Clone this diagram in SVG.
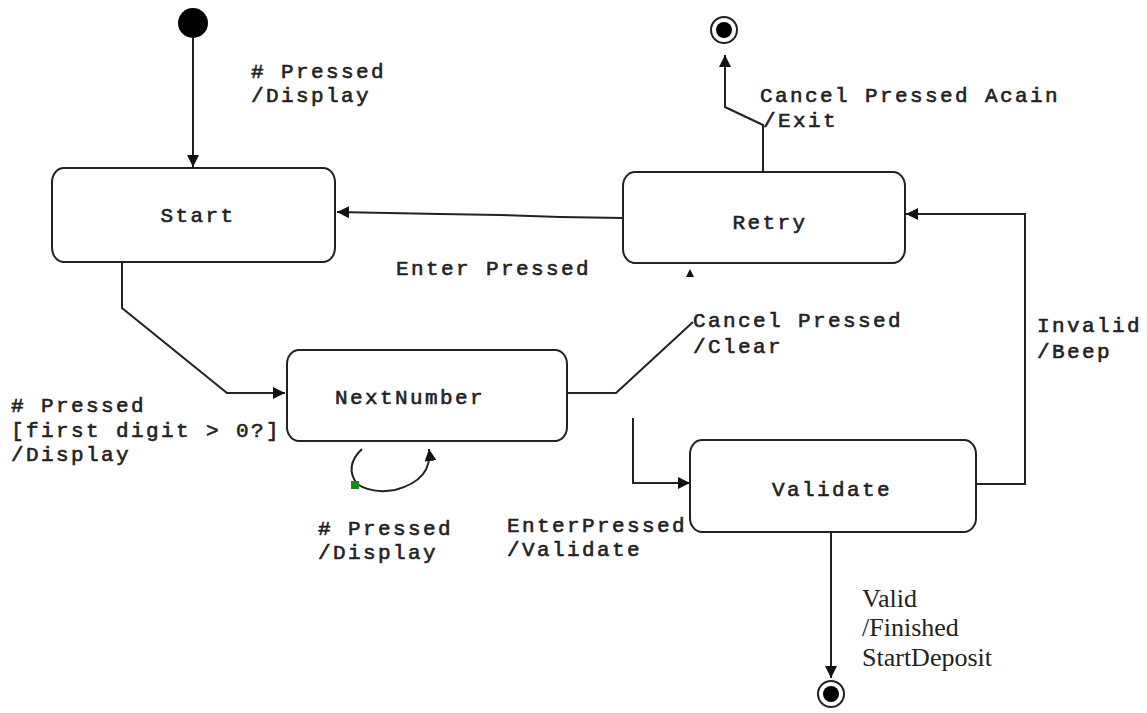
<svg xmlns="http://www.w3.org/2000/svg" width="1147" height="713" viewBox="0 0 1147 713">
<style>
.state{fill:#fff;stroke:#222;stroke-width:2}
.ln{fill:none;stroke:#222;stroke-width:2}
.t{font-family:"Liberation Mono","DejaVu Sans Mono",monospace;font-size:21px;letter-spacing:2.4px;fill:#222;stroke:#222;stroke-width:0.6}
.s{font-family:"Liberation Serif","DejaVu Serif",serif;font-size:26px;fill:#222}
.ah{fill:#111}
</style>
<defs>
<marker id="arr" viewBox="0 0 10 10" refX="10" refY="5" markerWidth="12" markerHeight="12" markerUnits="userSpaceOnUse" orient="auto">
<path d="M0,0 L10,5 L0,10 Z" class="ah"/>
</marker>
</defs>
<rect width="1147" height="713" fill="#fff"/>

<g id="connectors">
<line class="ln" x1="193" y1="36" x2="193" y2="167" marker-end="url(#arr)"/>
<polyline class="ln" points="623,218 560,217 500,215 440,214 337,212" marker-end="url(#arr)"/>
<polyline class="ln" points="763,172 763,125 725,107 725,55" marker-end="url(#arr)"/>
<polyline class="ln" points="122,262 122,308 227,393 285,393" marker-end="url(#arr)"/>
<path class="ln" d="M362,449 Q344,466 357,484 Q372,494 395,490 Q433,480 429,449" marker-end="url(#arr)"/>
<polyline class="ln" points="566,393 616,393 693,322"/>
<polyline class="ln" points="633,418 633,483 690,483" marker-end="url(#arr)"/>
<polyline class="ln" points="975,484 1025,484 1025,214 906,214" marker-end="url(#arr)"/>
<line class="ln" x1="831" y1="531" x2="831" y2="678" marker-end="url(#arr)"/>
<path d="M686,277 L690,269 L694,277 Z" class="ah"/>
<rect x="351" y="481" width="8" height="8" fill="#1a8a1a"/>
</g>

<g id="initial"><circle cx="193" cy="23" r="15" fill="#000"/></g>

<g id="final-top"><circle cx="724" cy="30" r="13" fill="none" stroke="#222" stroke-width="2"/><circle cx="724" cy="30" r="8" fill="#000"/></g>

<g id="final-bottom"><circle cx="831" cy="694" r="13" fill="none" stroke="#222" stroke-width="2"/><circle cx="831" cy="694" r="8" fill="#000"/></g>

<g id="start"><rect class="state" x="52" y="168" width="283" height="94" rx="12" ry="14"/><text class="t" x="198" y="222" text-anchor="middle">Start</text></g>

<g id="retry"><rect class="state" x="623" y="172" width="282" height="91" rx="12" ry="14"/><text class="t" x="770" y="229" text-anchor="middle">Retry</text></g>

<g id="nextnumber"><rect class="state" x="287" y="350" width="280" height="91" rx="12" ry="14"/><text class="t" x="410" y="404" text-anchor="middle">NextNumber</text></g>

<g id="validate"><rect class="state" x="690" y="440" width="286" height="92" rx="12" ry="14"/><text class="t" x="832" y="496" text-anchor="middle">Validate</text></g>

<g id="labels">
<text class="t" x="251" y="78"># Pressed</text>
<text class="t" x="251" y="102">/Display</text>
<text class="t" x="760" y="102">Cancel Pressed Acain</text>
<text class="t" x="763" y="127">/Exit</text>
<text class="t" x="396" y="275">Enter Pressed</text>
<text class="t" x="11" y="412"># Pressed</text>
<text class="t" x="11" y="437">[first digit &gt; 0?]</text>
<text class="t" x="11" y="461">/Display</text>
<text class="t" x="318" y="535"># Pressed</text>
<text class="t" x="318" y="559">/Display</text>
<text class="t" x="507" y="532">EnterPressed</text>
<text class="t" x="507" y="556">/Validate</text>
<text class="t" x="693" y="327">Cancel Pressed</text>
<text class="t" x="693" y="353">/Clear</text>
<text class="t" x="1037" y="332">Invalid</text>
<text class="t" x="1037" y="358">/Beep</text>
<text class="s" x="862" y="607">Valid</text>
<text class="s" x="862" y="636">/Finished</text>
<text class="s" x="862" y="666">StartDeposit</text>
</g>
</svg>
